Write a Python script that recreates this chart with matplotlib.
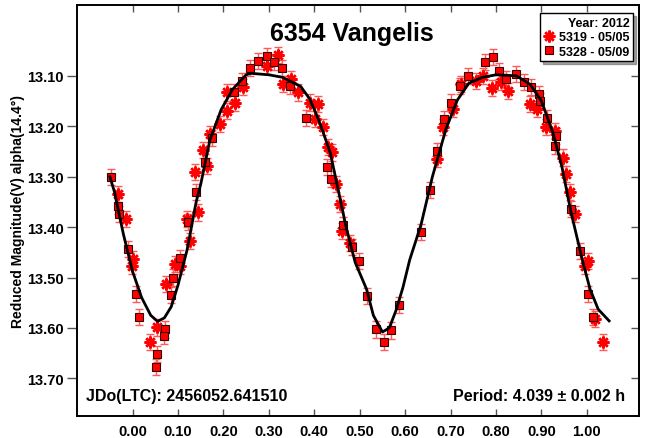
import matplotlib
matplotlib.use("Agg")
import matplotlib.pyplot as plt
from matplotlib.lines import Line2D

plt.rcParams['font.family'] = ['Liberation Sans', 'DejaVu Sans']
plt.rcParams['font.weight'] = 'bold'

# ---- data ----
fit_phase = [-0.05, -0.04, -0.02, 0.00, 0.02, 0.04, 0.055, 0.07, 0.085, 0.10, 0.12, 0.14,
             0.15, 0.17, 0.195, 0.22, 0.25, 0.26, 0.30, 0.33, 0.37, 0.39, 0.41, 0.435,
             0.45, 0.47, 0.49, 0.515, 0.53, 0.55, 0.565, 0.58, 0.595, 0.61, 0.635, 0.66,
             0.69, 0.715, 0.74, 0.77, 0.80, 0.845, 0.875, 0.90, 0.925, 0.945, 0.965,
             0.99, 1.007, 1.025, 1.049]
fit_mag = [13.300, 13.330, 13.415, 13.488, 13.540, 13.575, 13.587, 13.580, 13.558, 13.515,
           13.445, 13.350, 13.315, 13.228, 13.167, 13.127, 13.098, 13.095, 13.098, 13.103,
           13.121, 13.146, 13.188, 13.252, 13.315, 13.400, 13.470, 13.523, 13.575, 13.608,
           13.600, 13.565, 13.520, 13.465, 13.395, 13.300, 13.205, 13.148, 13.115, 13.103,
           13.098, 13.100, 13.117, 13.150, 13.212, 13.280, 13.370, 13.465, 13.523, 13.563,
           13.586]

s5319_phase = [-0.032, -0.015, 0.001, -0.002, 0.053, 0.038, 0.073, 0.093, 0.104, 0.119,
               0.126, 0.144, 0.137, 0.163, 0.155, 0.170, 0.192, 0.207, 0.207, 0.225,
               0.243, 0.295, 0.320, 0.332, 0.348, 0.365, 0.390, 0.409, 0.401, 0.420,
               0.431, 0.438, 0.447, 0.456, 0.460, 0.478, 0.670, 0.683, 0.706, 0.724,
               0.757, 0.772, 0.792, 0.810, 0.827, 0.875, 0.891, 0.911, 0.930, 0.948,
               0.954, 0.963, 0.974, 1.003, 0.996, 1.018, 1.035]
s5319_mag = [13.335, 13.384, 13.464, 13.477, 13.599, 13.628, 13.513, 13.474, 13.477, 13.384,
             13.427, 13.371, 13.291, 13.279, 13.247, 13.216, 13.196, 13.169, 13.133, 13.153,
             13.123, 13.080, 13.059, 13.116, 13.107, 13.133, 13.153, 13.156, 13.186, 13.202,
             13.242, 13.252, 13.315, 13.355, 13.408, 13.431, 13.265, 13.202, 13.166, 13.116,
             13.110, 13.100, 13.125, 13.113, 13.130, 13.156, 13.166, 13.202, 13.209, 13.262,
             13.295, 13.331, 13.374, 13.467, 13.477, 13.583, 13.628]

s5328_phase = [-0.048, -0.032, -0.029, -0.011, 0.007, 0.015, 0.071, 0.069, 0.053, 0.051,
               0.088, 0.104, 0.084, 0.121, 0.139, 0.159, 0.174, 0.224, 0.241, 0.258,
               0.276, 0.295, 0.311, 0.329, 0.346, 0.381, 0.427, 0.437, 0.463, 0.482,
               0.498, 0.516, 0.535, 0.569, 0.553, 0.586, 0.635, 0.654, 0.670, 0.685,
               0.702, 0.720, 0.739, 0.775, 0.794, 0.806, 0.823, 0.845, 0.861, 0.878,
               0.895, 0.897, 0.913, 0.932, 0.930, 0.965, 0.985, 1.003, 1.014]
s5328_mag = [13.300, 13.358, 13.374, 13.444, 13.533, 13.579, 13.603, 13.616, 13.652, 13.677,
             13.500, 13.462, 13.535, 13.390, 13.331, 13.271, 13.224, 13.132, 13.110, 13.085,
             13.070, 13.060, 13.072, 13.085, 13.120, 13.183, 13.281, 13.305, 13.396, 13.440,
             13.467, 13.537, 13.603, 13.605, 13.628, 13.555, 13.410, 13.327, 13.249, 13.186,
             13.153, 13.120, 13.100, 13.073, 13.062, 13.091, 13.107, 13.097, 13.113, 13.123,
             13.136, 13.150, 13.183, 13.220, 13.239, 13.364, 13.447, 13.533, 13.579]

mag_err = 0.016

x_ticks = [0.0, 0.1, 0.2, 0.3, 0.4, 0.5, 0.6, 0.7, 0.8, 0.9, 1.0]
y_ticks = [13.10, 13.20, 13.30, 13.40, 13.50, 13.60, 13.70]

title = "6354 Vangelis"
legend_title = "Year: 2012"
label_5319 = "5319 - 05/05"
label_5328 = "5328 - 05/09"
ylabel = "Reduced Magnitude(V) alpha(14.4°)"
jd_text = "JDo(LTC): 2456052.641510"
period_text = "Period: 4.039 ± 0.002 h"

# ---- figure ----
fig = plt.figure(figsize=(6.49, 4.39), dpi=100)
ax = fig.add_axes([0.118, 0.0508, 0.8664, 0.9362])

ast_marker = (8, 2, 0)
err_col = '#ff5a5a'

ax.errorbar(s5319_phase, s5319_mag, yerr=mag_err, fmt='none', ecolor=err_col,
            elinewidth=1.0, capsize=3, capthick=1.0, zorder=2)
ax.errorbar(s5328_phase, s5328_mag, yerr=mag_err, fmt='none', ecolor=err_col,
            elinewidth=1.0, capsize=3, capthick=1.0, zorder=2)
ax.plot(s5319_phase, s5319_mag, linestyle='none', marker=ast_marker, markersize=8.5,
        markeredgewidth=1.8, color='#ff0000', zorder=3)
ax.plot(s5328_phase, s5328_mag, linestyle='none', marker='s', markersize=6.3,
        markerfacecolor='#ff0000', markeredgecolor='#3a0000', markeredgewidth=0.8, zorder=4)
ax.plot(fit_phase, fit_mag, color='black', linewidth=2.0, zorder=5)

ax.set_xlim(-0.1233, 1.1145)
ax.set_ylim(13.774, 12.959)
ax.set_xticks(x_ticks)
ax.set_xticklabels([f"{v:.2f}" for v in x_ticks])
ax.set_yticks(y_ticks)
ax.set_yticklabels([f"{v:.2f}" for v in y_ticks])

for sp in ax.spines.values():
    sp.set_linewidth(1.4)
    sp.set_color('black')

ax.tick_params(axis='x', direction='in', top=True, bottom=True, length=5, width=1,
               color='#555555', labelsize=10.5, pad=6)
ax.tick_params(axis='y', direction='out', left=True, right=False, length=7, width=1,
               color='#555555', labelsize=10.5, pad=2)
for lab in ax.get_xticklabels() + ax.get_yticklabels():
    lab.set_fontweight('bold')

sec = ax.secondary_yaxis('right')
sec.set_yticks(y_ticks)
sec.tick_params(axis='y', direction='in', length=6, width=1, color='#555555', labelright=False)
sec.spines['right'].set_linewidth(1.4)

ax.set_ylabel(ylabel, fontsize=10, fontweight='bold', labelpad=2)

ax.text(0.49, 0.93, title, transform=ax.transAxes, ha='center', va='center',
        fontsize=18, fontweight='bold')
ax.text(0.017, 0.05, jd_text, transform=ax.transAxes, ha='left', va='center',
        fontsize=11.5, fontweight='bold')
ax.text(0.975, 0.05, period_text, transform=ax.transAxes, ha='right', va='center',
        fontsize=11.5, fontweight='bold')

handles = [
    Line2D([], [], linestyle='none', marker=ast_marker, markersize=8.5, markeredgewidth=1.8,
           color='#ff0000'),
    Line2D([], [], linestyle='none', marker='s', markersize=6.3, markerfacecolor='#ff0000',
           markeredgecolor='#3a0000', markeredgewidth=0.8),
]
leg = ax.legend(handles, [label_5319, label_5328], title=legend_title, loc='upper right',
                bbox_to_anchor=(0.99, 0.98), fancybox=False, shadow=True, frameon=True,
                prop={'size': 9, 'weight': 'bold'}, title_fontproperties={'size': 9, 'weight': 'bold'},
                handlelength=0.8, handletextpad=0.4, borderpad=0.3, labelspacing=0.2,
                borderaxespad=0.0)
leg.get_frame().set_edgecolor('black')
leg.get_frame().set_linewidth(1.0)
leg._legend_box.align = 'right'

fig.savefig("out.png", dpi=100)
